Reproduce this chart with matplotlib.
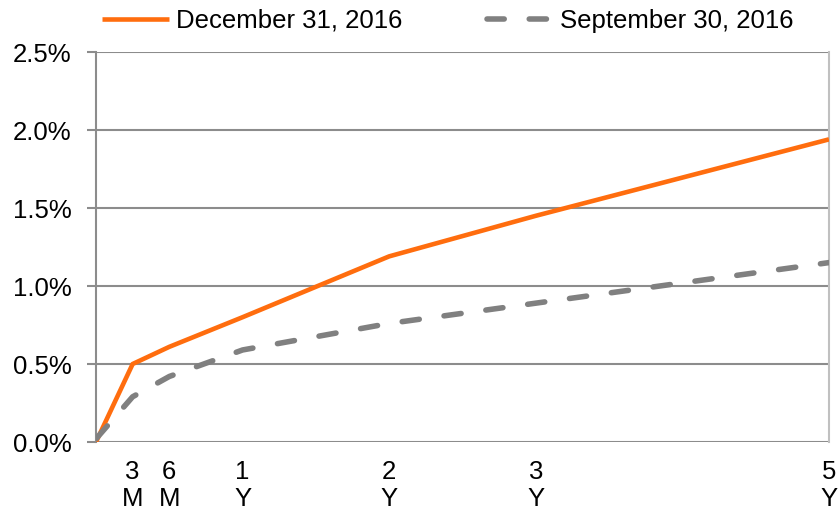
import numpy as np
import matplotlib
matplotlib.use("Agg")
import matplotlib.pyplot as plt

# tenor in years
tenors = [0, 0.25, 0.5, 1, 2, 3, 5]
tick_labels = ["3\nM", "6\nM", "1\nY", "2\nY", "3\nY", "5\nY"]
dec_2016 = [0.0, 0.50, 0.61, 0.80, 1.19, 1.45, 1.94]
sep_2016 = [0.02, 0.29, 0.42, 0.59, 0.76, 0.89, 1.15]

plt.rcParams['font.family'] = ['Liberation Sans', 'DejaVu Sans']
fs = 18.5

fig = plt.figure(figsize=(8.38, 5.14), dpi=100)
ax = fig.add_axes([96/838, 72/514, (829-96)/838, (442-52)/514])

ax.plot(tenors, dec_2016, color='#ff6d0e', lw=3.3, label='December 31, 2016',
        solid_capstyle='butt', zorder=3)
ax.plot(tenors, sep_2016, color='#808080', lw=4.0, label='September 30, 2016',
        dashes=(3.1, 4.5), dash_capstyle='round', zorder=3)

ax.set_xlim(0, 5)
ax.set_ylim(0, 2.5)
ax.set_yticks(np.arange(0, 2.51, 0.5))
ax.set_yticklabels([f"{v:.1f}%" for v in np.arange(0, 2.51, 0.5)])
ax.set_xticks(tenors[1:])
ax.set_xticklabels(tick_labels, linespacing=1.15)

ax.grid(axis='y', color='#8c8c8c', lw=1.5)
ax.set_axisbelow(True)
for s in ['top', 'bottom']:
    ax.spines[s].set_visible(False)
ax.spines['left'].set_color('#8c8c8c')
ax.spines['left'].set_linewidth(1.5)
ax.spines['right'].set_color('#c0c0c0')
ax.spines['right'].set_linewidth(1.5)

ax.tick_params(axis='y', length=6.5, width=1.5, color='#8c8c8c', labelsize=fs, pad=11)
ax.tick_params(axis='x', length=0, labelsize=fs, pad=13)

ax.legend(loc='lower center', bbox_to_anchor=(0.48, 1.05), ncol=2, frameon=False,
          fontsize=fs, handlelength=2.6, handletextpad=0.25, columnspacing=3.3,
          borderaxespad=0, borderpad=0)

fig.savefig('out.png', dpi=100)
